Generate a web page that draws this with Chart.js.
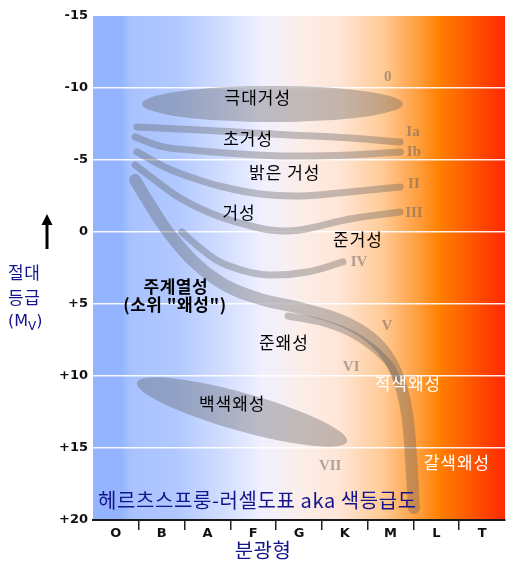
<!DOCTYPE html>
<html><head><meta charset="utf-8">
<script src="https://cdn.jsdelivr.net/npm/chart.js@4"></script>
<style>html,body{margin:0;padding:0;background:#fff;}</style>
</head><body>
<canvas id="c" width="516" height="578"></canvas>
<script>
// ---------- data ----------
const specClasses = ['O','B','A','F','G','K','M','L','T'];
const magTicks = [-15,-10,-5,0,5,10,15,20];
const yTickLabels = ['-15','-10','-5','0','+5','+10','+15','+20'];

// luminosity-class sequences: x = spectral position (0..9), m = absolute magnitude
const ia_x  = [0.96, 2.34, 4.30, 5.61, 6.71];
const ia_m  = [-7.29, -7.08, -6.74, -6.53, -6.25];
const ib_x  = [0.92, 1.46, 2.12, 3.21, 4.30, 5.61, 6.71];
const ib_m  = [-6.60, -5.97, -5.69, -5.42, -5.28, -5.35, -5.56];
const ii_x  = [0.96, 1.57, 2.12, 2.77, 3.65, 4.52, 5.61, 6.71];
const ii_m  = [-5.56, -4.51, -3.82, -3.19, -2.64, -2.50, -2.78, -3.13];
const iii_x = [0.92, 1.35, 1.90, 2.56, 3.21, 3.87, 4.52, 5.61, 6.71];
const iii_m = [-4.65, -3.61, -2.36, -1.32, -0.63, -0.14, -0.14, -0.90, -1.39];
const iv_x  = [1.94, 2.34, 2.77, 3.32, 3.87, 4.68, 5.46];
const iv_m  = [0.00, 1.11, 2.08, 2.71, 2.99, 2.78, 2.08];
const v_x   = [0.92, 1.25, 1.64, 2.23, 2.88, 3.65, 4.52, 5.40, 6.05, 6.49, 6.75, 6.88, 6.95, 7.01];
const v_m   = [-3.61, -1.88, 0.00, 2.15, 3.68, 4.65, 5.28, 6.11, 7.29, 8.89, 10.97, 13.06, 15.83, 19.17];
const vi_x  = [4.26, 4.96, 5.61, 6.09, 6.49, 6.66];
const vi_m  = [5.83, 6.25, 7.01, 7.99, 9.24, 10.28];

// regions drawn as ellipses: long axis end points (x, m) and half width (mag)
const hypergiantAxis = [[1.07, -8.89], [6.77, -8.89]];
const hypergiantHalf = 1.25;
const whiteDwarfAxis = [[0.96, 10.45], [5.55, 14.55]];
const whiteDwarfHalf = 1.32;

// labels
const regionNames = ['극대거성','초거성','밝은 거성','거성','준거성','준왜성','백색왜성'];
const regionX = [3.60, 3.39, 4.19, 3.19, 5.79, 4.17, 3.04];
const regionM = [-9.34, -6.46, -4.10, -1.32, 0.49, 7.71, 11.88];
const dwarfNames = ['적색왜성','갈색왜성'];
const dwarfX = [6.88, 7.95];
const dwarfM = [10.49, 16.04];
const mainSeqNames = ['주계열성','(소위 "왜성")'];
const mainSeqX = [1.81, 1.79];
const mainSeqM = [3.82, 5.07];
const lumClasses = ['0','Ia','Ib','II','III','IV','V','VI','VII'];
const lumX = [6.44, 6.99, 7.01, 7.01, 7.01, 5.81, 6.42, 5.64, 5.18];
const lumM = [-10.76, -6.94, -5.56, -3.33, -1.32, 2.08, 6.53, 9.38, 16.25];

const chartTitle = '헤르츠스프룽-러셀도표 aka 색등급도';
const xTitle = '분광형';

// ---------- chart ----------
const BAND = 'rgba(90,90,90,0.35)';
function seq(xs, ms, w) {
  return {
    data: xs.map((x, i) => ({x: x, y: ms[i]})),
    xAxisID: 'xl', yAxisID: 'y',
    borderColor: BAND, borderWidth: w, pointRadius: 0, fill: false,
    tension: 0.4, borderCapStyle: 'round', borderJoinStyle: 'round'
  };
}
const datasets = [
  seq(ia_x, ia_m, 7), seq(ib_x, ib_m, 7), seq(ii_x, ii_m, 7), seq(iii_x, iii_m, 7),
  seq(iv_x, iv_m, 7), seq(v_x, v_m, 12), seq(vi_x, vi_m, 7)
];

const bgPlugin = {
  id: 'bg',
  beforeDraw(chart) {
    const {ctx, chartArea: a} = chart;
    const g = ctx.createLinearGradient(a.left, 0, a.right, 0);
    [[0,'#94b4ff'],[0.07,'#94b4ff'],[0.09,'#a8c2ff'],[0.2,'#b0c8ff'],[0.35,'#dce4ff'],
     [0.41,'#f0f0ff'],[0.5,'#fbeeea'],[0.6,'#ffe5d5'],[0.7,'#ffcc99'],[0.8,'#ff9933'],
     [0.84,'#ff8000'],[0.92,'#ff5500'],[1,'#ff2a00']].forEach(s => g.addColorStop(s[0], s[1]));
    ctx.save();
    ctx.fillStyle = g;
    ctx.fillRect(a.left, a.top, a.right - a.left, a.bottom - a.top);
    ctx.restore();
  }
};

const ellipsePlugin = {
  id: 'ellipses',
  beforeDatasetsDraw(chart) {
    const {ctx} = chart;
    const xs = chart.scales.xl, ys = chart.scales.y;
    [[hypergiantAxis, hypergiantHalf], [whiteDwarfAxis, whiteDwarfHalf]].forEach(([ax, hw]) => {
      const x1 = xs.getPixelForValue(ax[0][0]), y1 = ys.getPixelForValue(ax[0][1]);
      const x2 = xs.getPixelForValue(ax[1][0]), y2 = ys.getPixelForValue(ax[1][1]);
      const cx = (x1 + x2) / 2, cy = (y1 + y2) / 2;
      const rx = Math.hypot(x2 - x1, y2 - y1) / 2;
      const ry = Math.abs(ys.getPixelForValue(hw) - ys.getPixelForValue(0));
      const ang = Math.atan2(y2 - y1, x2 - x1);
      ctx.save();
      ctx.fillStyle = BAND;
      ctx.beginPath();
      ctx.ellipse(cx, cy, rx, ry, ang, 0, Math.PI * 2);
      ctx.fill();
      ctx.restore();
    });
  }
};

const textPlugin = {
  id: 'texts',
  afterDatasetsDraw(chart) {
    const {ctx, chartArea: a} = chart;
    const xs = chart.scales.xl, ys = chart.scales.y;
    const KR = '"Noto Sans CJK KR", "Noto Sans", sans-serif';
    ctx.save();
    ctx.textAlign = 'center';
    ctx.textBaseline = 'middle';
    ctx.letterSpacing = '1px';
    ctx.font = '17px ' + KR;
    ctx.fillStyle = '#000';
    regionNames.forEach((t, i) => ctx.fillText(t, xs.getPixelForValue(regionX[i]), ys.getPixelForValue(regionM[i])));
    ctx.fillStyle = '#fff';
    dwarfNames.forEach((t, i) => ctx.fillText(t, xs.getPixelForValue(dwarfX[i]), ys.getPixelForValue(dwarfM[i])));
    ctx.letterSpacing = '0.5px';
    ctx.font = 'bold 17px ' + KR;
    ctx.fillStyle = '#000';
    mainSeqNames.forEach((t, i) => ctx.fillText(t, xs.getPixelForValue(mainSeqX[i]), ys.getPixelForValue(mainSeqM[i])));
    ctx.letterSpacing = '0px';
    ctx.font = 'bold 15px "Liberation Serif", "DejaVu Serif", serif';
    ctx.fillStyle = 'rgba(95,95,95,0.5)';
    lumClasses.forEach((t, i) => ctx.fillText(t, xs.getPixelForValue(lumX[i]), ys.getPixelForValue(lumM[i])));

    // chart title inside plot
    const NAVY = '#14148c';
    ctx.fillStyle = NAVY;
    ctx.textAlign = 'left';
    ctx.letterSpacing = '0.6px';
    ctx.font = '20px ' + KR;
    ctx.fillText(chartTitle, a.left + 5, a.bottom - 20);
    // x axis title
    ctx.textAlign = 'center';
    ctx.letterSpacing = '0.5px';
    ctx.font = '20px ' + KR;
    ctx.fillText(xTitle, 263, 550);
    // y axis title
    ctx.font = '17px ' + KR;
    ctx.textAlign = 'left';
    ctx.fillText('절대', 8, 273);
    ctx.fillText('등급', 8, 298);
    ctx.letterSpacing = '0px';
    ctx.font = '16px "DejaVu Sans", sans-serif';
    let px = 8;
    ctx.fillText('(M', px, 322);
    px += ctx.measureText('(M').width;
    ctx.font = '12px "DejaVu Sans", sans-serif';
    ctx.fillText('V', px, 327);
    px += ctx.measureText('V').width;
    ctx.font = '16px "DejaVu Sans", sans-serif';
    ctx.fillText(')', px, 322);
    // arrow
    ctx.strokeStyle = '#000';
    ctx.fillStyle = '#000';
    ctx.lineWidth = 3;
    ctx.beginPath();
    ctx.moveTo(47, 249); ctx.lineTo(47, 222);
    ctx.stroke();
    ctx.beginPath();
    ctx.moveTo(47, 214); ctx.lineTo(41.5, 225); ctx.lineTo(52.5, 225); ctx.closePath();
    ctx.fill();
    ctx.restore();
  }
};

new Chart(document.getElementById('c'), {
  type: 'line',
  data: {datasets: datasets},
  plugins: [bgPlugin, ellipsePlugin, textPlugin],
  options: {
    responsive: false, animation: false, devicePixelRatio: 1,
    layout: {padding: {left: 0, right: 11, top: 16, bottom: 0}},
    plugins: {legend: {display: false}, tooltip: {enabled: false}},
    scales: {
      x: {
        type: 'category', labels: specClasses, position: 'bottom', offset: true,
        grid: {
          offset: true, drawOnChartArea: false, drawTicks: true, tickLength: 10, lineWidth: 1.5,
          color: (c) => (c.type !== 'tick' || c.index === 0) ? 'rgba(0,0,0,0)' : '#222'
        },
        border: {display: true, color: '#1a1a1a', width: 2},
        ticks: {font: {family: 'DejaVu Sans', weight: 'bold', size: 13}, color: '#111', padding: -4, autoSkip: false, maxRotation: 0},
        afterFit: (s) => { s.height = 58; }
      },
      xl: {type: 'linear', display: false, min: 0, max: 9, position: 'bottom'},
      y: {
        type: 'linear', reverse: true, min: -15, max: 20,
        afterBuildTicks: (s) => { s.ticks = magTicks.map(v => ({value: v})); },
        grid: {
          drawTicks: false, lineWidth: 1.5,
          color: (c) => (c.tick && (c.tick.value === -15 || c.tick.value === 20)) ? 'rgba(0,0,0,0)' : 'rgba(255,255,255,0.9)'
        },
        border: {display: false},
        ticks: {
          padding: 5, color: '#111', font: {family: 'DejaVu Sans', weight: 'bold', size: 13},
          callback: (v) => yTickLabels[magTicks.indexOf(v)]
        },
        afterFit: (s) => { s.width = 93; }
      }
    }
  }
});
</script>
</body></html>
